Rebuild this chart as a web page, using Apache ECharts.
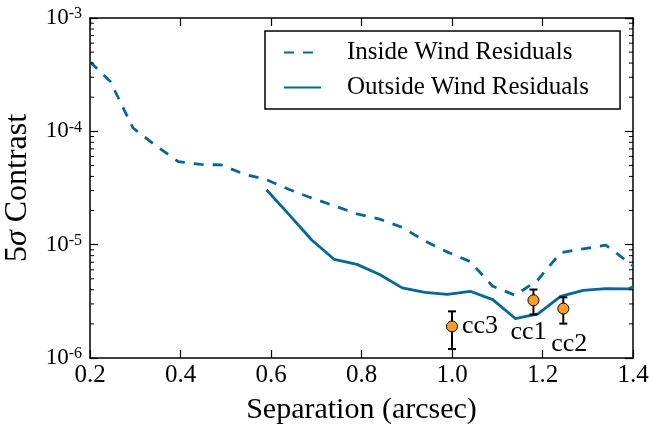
<!DOCTYPE html>
<html><head><meta charset="utf-8">
<script src="https://cdn.jsdelivr.net/npm/echarts@6/dist/echarts.min.js"></script>
<style>html,body{margin:0;padding:0;background:#fff}#c{width:649px;height:424px}</style>
</head><body><div id="c"></div>
<script>
// ---------- data ----------
const insideX = [0.2, 0.245, 0.295, 0.345, 0.395, 0.445, 0.49, 0.54, 0.59, 0.64, 0.69, 0.74, 0.79, 0.84, 0.89, 0.94, 0.99, 1.04, 1.09, 1.14, 1.19, 1.24, 1.29, 1.34, 1.39, 1.4];
const insideY = [4.1e-4, 2.75e-4, 1.07e-4, 7.5e-5, 5.4e-5, 5.1e-5, 5.05e-5, 4.2e-5, 3.74e-5, 3.07e-5, 2.58e-5, 2.2e-5, 1.87e-5, 1.68e-5, 1.42e-5, 1.08e-5, 8.6e-6, 7.1e-6, 4.3e-6, 3.57e-6, 4.9e-6, 8.5e-6, 9.2e-6, 9.9e-6, 7.0e-6, 6.5e-6];
const outsideX = [0.59, 0.64, 0.69, 0.74, 0.79, 0.84, 0.89, 0.94, 0.99, 1.04, 1.09, 1.14, 1.19, 1.24, 1.29, 1.34, 1.39, 1.4];
const outsideY = [3.05e-5, 1.84e-5, 1.1e-5, 7.4e-6, 6.7e-6, 5.45e-6, 4.16e-6, 3.8e-6, 3.65e-6, 3.88e-6, 3.27e-6, 2.23e-6, 2.45e-6, 3.5e-6, 3.95e-6, 4.09e-6, 4.07e-6, 4.24e-6];
const ccNames = ['cc3', 'cc1', 'cc2'];
const ccX = [1.0, 1.18, 1.246];
const ccY = [1.9e-6, 3.23e-6, 2.73e-6];
const ccLow = [1.2e-6, 2.42e-6, 2.01e-6];
const ccHigh = [2.58e-6, 4.02e-6, 3.43e-6];
const seriesNames = ['Inside Wind Residuals', 'Outside Wind Residuals'];
const xTickLabels = ['0.2', '0.4', '0.6', '0.8', '1.0', '1.2', '1.4'];
const yDecades = [-6, -5, -4, -3];

// ---------- style ----------
const FONT = '"Liberation Serif", "Times New Roman", serif';
const LINE = '#00689c';
const ORANGE = '#ff9e1b';
const ccLabelStyle = {
  cc3: { position: 'right', distance: 4, offset: [0, 0] },
  cc1: { position: 'bottom', distance: 4, offset: [-5, 9] },
  cc2: { position: 'bottom', distance: 4, offset: [6, 13] }
};

const xMin = 0.2, xMax = 1.4, xInt = 0.2;
const yMin = Math.pow(10, yDecades[0]), yMax = Math.pow(10, yDecades[yDecades.length - 1]);

// minor tick positions on the log axis (2..9 times each decade)
const minorVals = [];
for (let i = 0; i < yDecades.length - 1; i++) {
  for (let m = 2; m <= 9; m++) minorVals.push([xMin, m * Math.pow(10, yDecades[i])]);
}

const axisLineStyle = { color: '#000', width: 1.5 };
const tickStyle = { show: true, inside: true, length: 8, lineStyle: { color: '#000', width: 1.2 } };

const chart = echarts.init(document.getElementById('c'), null, { renderer: 'canvas' });

const option = {
  animation: false,
  backgroundColor: '#fff',
  grid: { left: 90, right: 16, top: 18, bottom: 66, containLabel: false, outerBoundsMode: 'none' },
  legend: {
    data: seriesNames,
    orient: 'vertical',
    left: 265, top: 31,
    itemWidth: 37, itemHeight: 14, itemGap: 10,
    padding: [9, 31, 9, 18],
    borderColor: '#000', borderWidth: 1.5, borderRadius: 0,
    backgroundColor: '#fff',
    itemStyle: { opacity: 0 },
    textStyle: { fontFamily: FONT, fontSize: 25, color: '#000', padding: [0, 0, 0, 21] }
  },
  xAxis: [{
    type: 'value', min: xMin, max: xMax, interval: xInt, position: 'bottom',
    axisLine: { show: true, onZero: false, lineStyle: axisLineStyle },
    axisTick: tickStyle,
    axisLabel: {
      fontFamily: FONT, fontSize: 25, color: '#000', margin: 5,
      formatter: v => xTickLabels[Math.round((v - xMin) / xInt)]
    },
    splitLine: { show: false },
    name: 'Separation (arcsec)', nameLocation: 'middle', nameGap: 37,
    nameTextStyle: { fontFamily: FONT, fontSize: 30, color: '#000' }
  }, {
    type: 'value', min: xMin, max: xMax, interval: xInt, position: 'top',
    axisLine: { show: true, onZero: false, lineStyle: axisLineStyle },
    axisTick: tickStyle, axisLabel: { show: false }, splitLine: { show: false }
  }],
  yAxis: [{
    type: 'log', logBase: 10, min: yMin, max: yMax, position: 'left',
    axisLine: { show: true, onZero: false, lineStyle: axisLineStyle },
    axisTick: tickStyle,
    axisLabel: {
      margin: 8,
      formatter: v => '{b|10}{s|' + Math.round(Math.log10(v)) + '}',
      rich: {
        b: { fontFamily: FONT, fontSize: 23, color: '#000', lineHeight: 24 },
        s: { fontFamily: FONT, fontSize: 16, color: '#000', lineHeight: 16, verticalAlign: 'top' }
      }
    },
    splitLine: { show: false },
    name: '{a|5}{i|σ}{a| Contrast}', nameLocation: 'middle', nameGap: 56, nameRotate: 90,
    nameTextStyle: {
      rich: {
        a: { fontFamily: FONT, fontSize: 32, color: '#000' },
        i: { fontFamily: FONT, fontSize: 32, color: '#000', fontStyle: 'italic' }
      }
    }
  }, {
    type: 'log', logBase: 10, min: yMin, max: yMax, position: 'right',
    axisLine: { show: true, onZero: false, lineStyle: axisLineStyle },
    axisTick: tickStyle, axisLabel: { show: false }, splitLine: { show: false }
  }],
  series: [
    {
      name: seriesNames[0], type: 'line', xAxisIndex: 0, yAxisIndex: 0,
      data: insideX.map((x, i) => [x, insideY[i]]),
      showSymbol: false, symbol: 'none', smooth: false,
      lineStyle: { color: LINE, width: 2.8, type: [10, 9] },
      itemStyle: { color: LINE }, z: 3
    },
    {
      name: seriesNames[1], type: 'line', xAxisIndex: 0, yAxisIndex: 0,
      data: outsideX.map((x, i) => [x, outsideY[i]]),
      showSymbol: false, symbol: 'none', smooth: false,
      lineStyle: { color: LINE, width: 2.8, type: 'solid' },
      itemStyle: { color: LINE }, z: 3
    },
    {
      name: 'errorbars', type: 'custom', xAxisIndex: 0, yAxisIndex: 0, silent: true, z: 4,
      data: ccX.map((x, i) => [x, ccLow[i], ccHigh[i]]),
      renderItem: function (params, api) {
        const lo = api.coord([api.value(0), api.value(1)]);
        const hi = api.coord([api.value(0), api.value(2)]);
        const w = 4;
        const st = { stroke: '#000', lineWidth: 2 };
        return {
          type: 'group', children: [
            { type: 'line', shape: { x1: lo[0], y1: lo[1], x2: hi[0], y2: hi[1] }, style: st },
            { type: 'line', shape: { x1: lo[0] - w, y1: lo[1], x2: lo[0] + w, y2: lo[1] }, style: st },
            { type: 'line', shape: { x1: hi[0] - w, y1: hi[1], x2: hi[0] + w, y2: hi[1] }, style: st }
          ]
        };
      }
    },
    {
      name: 'cc', type: 'scatter', xAxisIndex: 0, yAxisIndex: 0, z: 5,
      symbol: 'circle', symbolSize: 11,
      itemStyle: { color: ORANGE, borderColor: '#000', borderWidth: 1, opacity: 1 },
      data: ccX.map((x, i) => ({
        value: [x, ccY[i]], name: ccNames[i],
        label: Object.assign({ show: true, formatter: '{b}', fontFamily: FONT, fontSize: 26, color: '#000', textBorderWidth: 0, opacity: 1 }, ccLabelStyle[ccNames[i]])
      }))
    },
    {
      name: 'minorTicks', type: 'custom', xAxisIndex: 0, yAxisIndex: 0, silent: true, z: 6,
      data: minorVals,
      renderItem: function (params, api) {
        const v = api.value(1);
        const l = api.coord([xMin, v]);
        const r = api.coord([xMax, v]);
        const st = { stroke: '#000', lineWidth: 1 };
        return {
          type: 'group', children: [
            { type: 'line', shape: { x1: l[0], y1: l[1], x2: l[0] + 4, y2: l[1] }, style: st },
            { type: 'line', shape: { x1: r[0] - 4, y1: r[1], x2: r[0], y2: r[1] }, style: st }
          ]
        };
      }
    }
  ]
};
chart.setOption(option);
</script>
</body></html>
